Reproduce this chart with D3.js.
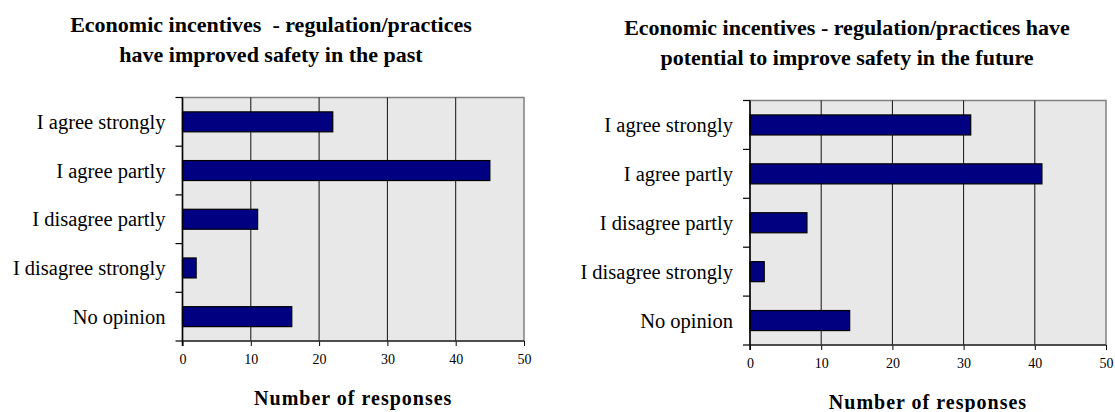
<!DOCTYPE html>
<html>
<head>
<meta charset="utf-8">
<script src="https://cdn.jsdelivr.net/npm/d3@7"></script>
<style>
  html, body { margin: 0; padding: 0; background: #ffffff; }
  svg { display: block; }
  svg text { font-family: "Liberation Serif", "Times New Roman", serif !important; fill: #000; }
</style>
</head>
<body>
<svg id="chart" width="1115" height="412"></svg>
<script>
const categories = ["I agree strongly", "I agree partly", "I disagree partly", "I disagree strongly", "No opinion"];
const pastValues = [22, 45, 11, 2, 16];
const futureValues = [31, 41, 8, 2, 14];
const xTicks = [0, 10, 20, 30, 40, 50];
const pastTitle = ["Economic incentives  - regulation/practices", "have improved safety in the past"];
const futureTitle = ["Economic incentives - regulation/practices have", "potential to improve safety in the future"];
const axisTitle = "Number of responses";

const svg = d3.select("#chart");

function drawChart(opt) {
  const g = svg.append("g");
  const x = d3.scaleLinear().domain([0, 50]).range([opt.left, opt.right]);
  const y = d3.scaleBand().domain(categories).range([opt.top, opt.bottom]).paddingInner(0.59).paddingOuter(0.295);
  const yEdge = d3.scaleLinear().domain([0, categories.length]).range([opt.top, opt.bottom]);

  // plot background
  g.append("rect")
    .attr("x", opt.left).attr("y", opt.top)
    .attr("width", opt.right - opt.left).attr("height", opt.bottom - opt.top)
    .attr("fill", "#e8e8e8").attr("stroke", "#808080").attr("stroke-width", 1.5);

  // gridlines
  g.selectAll("line.grid").data(xTicks.filter(t => t > 0 && t < 50)).enter().append("line")
    .attr("class", "grid")
    .attr("x1", d => x(d)).attr("x2", d => x(d))
    .attr("y1", opt.top).attr("y2", opt.bottom)
    .attr("stroke", "#111").attr("stroke-width", 1);

  // bars
  g.selectAll("rect.bar").data(opt.values).enter().append("rect")
    .attr("class", "bar")
    .attr("x", x(0))
    .attr("y", (d, i) => y(categories[i]))
    .attr("width", d => x(d) - x(0))
    .attr("height", y.bandwidth())
    .attr("fill", "#000080").attr("stroke", "#000").attr("stroke-width", 1.2);

  // x axis
  const xAxis = d3.axisBottom(x).tickValues(xTicks).tickSize(5).tickPadding(8).tickSizeOuter(0);
  const xa = g.append("g").attr("transform", `translate(0,${opt.bottom})`).call(xAxis);
  xa.attr("font-family", null);
  xa.select(".domain").remove();
  xa.append("line").attr("x1", opt.left - 7).attr("x2", opt.right).attr("y1", 0).attr("y2", 0)
    .attr("stroke", "#333").attr("stroke-width", 1.5);
  xa.selectAll(".tick line").attr("stroke", "#000");
  xa.selectAll(".tick text").attr("font-size", 14).attr("fill", "#000");

  // y axis
  g.append("line").attr("x1", opt.left).attr("x2", opt.left).attr("y1", opt.top).attr("y2", opt.bottom + 5)
    .attr("stroke", "#000").attr("stroke-width", 1.5);
  g.selectAll("line.ytick").data(d3.range(0, categories.length)).enter().append("line")
    .attr("class", "ytick")
    .attr("x1", opt.left - 7).attr("x2", opt.left)
    .attr("y1", d => yEdge(d)).attr("y2", d => yEdge(d))
    .attr("stroke", "#000").attr("stroke-width", 1.2);
  g.selectAll("text.ylab").data(categories).enter().append("text")
    .attr("class", "ylab")
    .attr("x", opt.left - 17)
    .attr("y", d => y(d) + y.bandwidth() / 2)
    .attr("dy", "0.35em")
    .attr("text-anchor", "end")
    .attr("font-size", 20.5)
    .text(d => d);

  // title
  g.selectAll("text.title").data(opt.title).enter().append("text")
    .attr("class", "title")
    .attr("x", opt.titleX)
    .attr("y", (d, i) => opt.titleY + i * 29.5)
    .attr("text-anchor", "middle")
    .attr("font-size", 22).attr("font-weight", "bold")
    .style("white-space", "pre")
    .text(d => d);

  // axis title
  g.append("text")
    .attr("x", (opt.left + opt.right) / 2)
    .attr("y", opt.axisTitleY)
    .attr("text-anchor", "middle")
    .attr("font-size", 20).attr("font-weight", "bold")
    .attr("letter-spacing", 1)
    .text(axisTitle);
}

drawChart({ values: pastValues, title: pastTitle, left: 182.5, right: 524, top: 97.5, bottom: 341,
  titleX: 271, titleY: 32, axisTitleY: 405 });
drawChart({ values: futureValues, title: futureTitle, left: 750, right: 1106, top: 100.5, bottom: 345,
  titleX: 847, titleY: 35, axisTitleY: 409 });
</script>
</body>
</html>
